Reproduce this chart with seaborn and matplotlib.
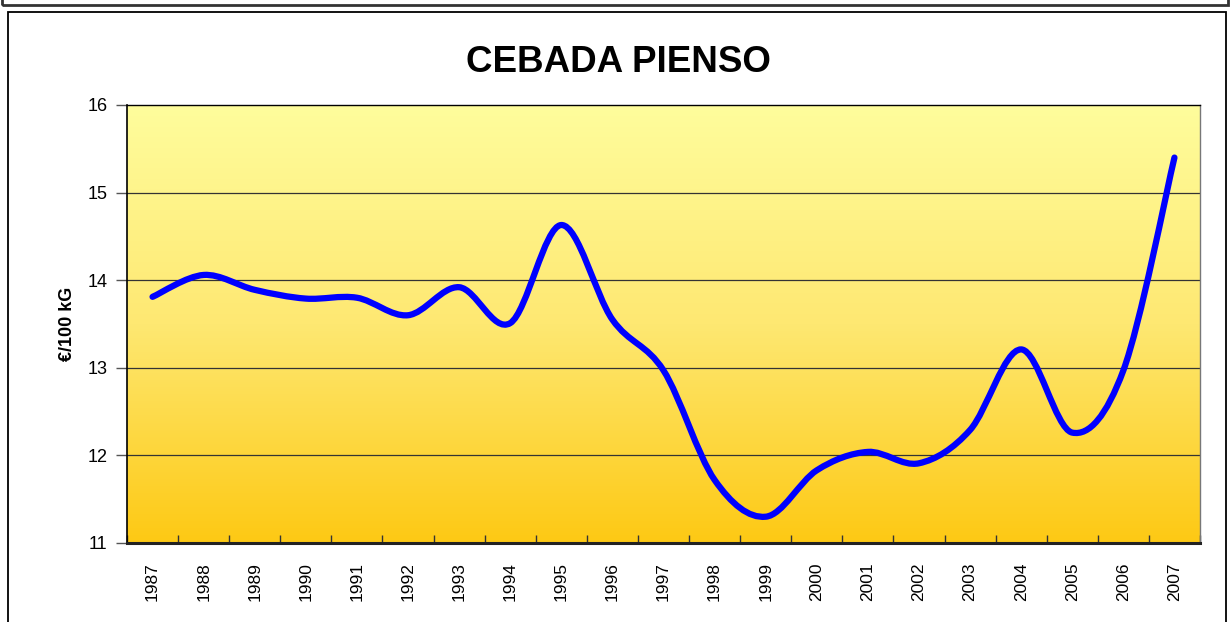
import numpy as np
import matplotlib
matplotlib.use("Agg")
import matplotlib.pyplot as plt
from matplotlib.path import Path
from matplotlib.patches import PathPatch, Rectangle
from matplotlib.colors import LinearSegmentedColormap
import seaborn as sns

# ────────────────────────────────────────────────
# DATA
# ────────────────────────────────────────────────
years = ["1987", "1988", "1989", "1990", "1991", "1992", "1993", "1994", "1995", "1996",
         "1997", "1998", "1999", "2000", "2001", "2002", "2003", "2004", "2005", "2006", "2007"]
price = [13.81, 14.06, 13.89, 13.79, 13.80, 13.60, 13.92, 13.51, 14.63, 13.55,
         12.97, 11.72, 11.30, 11.83, 12.04, 11.91, 12.29, 13.21, 12.26, 12.97, 15.40]

TITLE = "CEBADA PIENSO"
YLABEL = "€/100 kG"

# ────────────────────────────────────────────────
# STYLE
# ────────────────────────────────────────────────
sns.set_style("white")
plt.rcParams["font.family"] = ["Liberation Sans", "DejaVu Sans"]
plt.rcParams["text.color"] = "black"
plt.rcParams["axes.labelcolor"] = "black"
plt.rcParams["xtick.color"] = "black"
plt.rcParams["ytick.color"] = "black"

fig = plt.figure(figsize=(12.31, 6.22), dpi=100)
ax = fig.add_axes([127 / 1231, 1 - 543 / 622, 1073 / 1231, 438 / 622])

# gradient background (light yellow -> golden)
cmap = LinearSegmentedColormap.from_list("bg", ["#FDC914", "#FEE872", "#FFFD9C"])
grad = np.linspace(0, 1, 256).reshape(-1, 1)
ax.imshow(grad, aspect="auto", cmap=cmap, origin="lower",
          extent=[0, 1, 0, 1], transform=ax.transAxes, zorder=0)

# smoothed line (Excel-style bezier through the points)
xs = np.arange(len(price))
pts = np.column_stack([xs, price])
verts = [tuple(pts[0])]
codes = [Path.MOVETO]
n = len(pts)
for i in range(n - 1):
    p0 = pts[max(i - 1, 0)]
    p1 = pts[i]
    p2 = pts[i + 1]
    p3 = pts[min(i + 2, n - 1)]
    c1 = p1 + (p2 - p0) / 6.0
    c2 = p2 - (p3 - p1) / 6.0
    verts += [tuple(c1), tuple(c2), tuple(p2)]
    codes += [Path.CURVE4] * 3
line = PathPatch(Path(verts, codes), facecolor="none", edgecolor="#0000FF",
                 lw=4.5, capstyle="round", joinstyle="round", zorder=3)
ax.add_patch(line)

ax.set_xlim(-0.5, len(years) - 0.5)
ax.set_ylim(11, 16)

# axes and ticks
ax.set_yticks([11, 12, 13, 14, 15, 16])
ax.set_yticklabels(["11", "12", "13", "14", "15", "16"], fontsize=13)
ax.tick_params(axis="y", direction="out", length=8, width=1, color="#555555", pad=6, left=True)
ax.set_xticks(np.arange(-0.5, len(years), 1.0))
ax.set_xticklabels([])
ax.set_xticks(xs, minor=True)
ax.set_xticklabels(years, minor=True, rotation=90, fontsize=12.5)
ax.tick_params(axis="x", which="major", direction="in", length=6, width=1, color="#333333", bottom=True)
ax.tick_params(axis="x", which="minor", length=0, pad=14)

for y in [12, 13, 14, 15]:
    ax.axhline(y, color="#333333", lw=0.9, zorder=1)

ax.spines["left"].set_color("black")
ax.spines["left"].set_linewidth(1.2)
ax.spines["bottom"].set_color("#222222")
ax.spines["bottom"].set_linewidth(2.2)
ax.spines["top"].set_color("black")
ax.spines["top"].set_linewidth(1.0)
ax.spines["right"].set_color("#777777")
ax.spines["right"].set_linewidth(1.0)

ax.set_ylabel(YLABEL, fontsize=13, fontweight="bold", labelpad=8)
fig.text(618 / 1231, 1 - 63 / 622, TITLE, fontsize=26.5, fontweight="bold",
         ha="center", va="center", color="black")

# outer frames
fig.patches.append(Rectangle((8 / 1231, -0.05), 1218 / 1231, 1.05 - 12 / 622,
                             transform=fig.transFigure, fill=False,
                             edgecolor="black", lw=1.3))
fig.patches.append(Rectangle((2 / 1231, 1 - 5 / 622), 1226 / 1231, 0.05,
                             transform=fig.transFigure, fill=False,
                             edgecolor="#333333", lw=2.0))

fig.savefig("out.png", dpi=100)
